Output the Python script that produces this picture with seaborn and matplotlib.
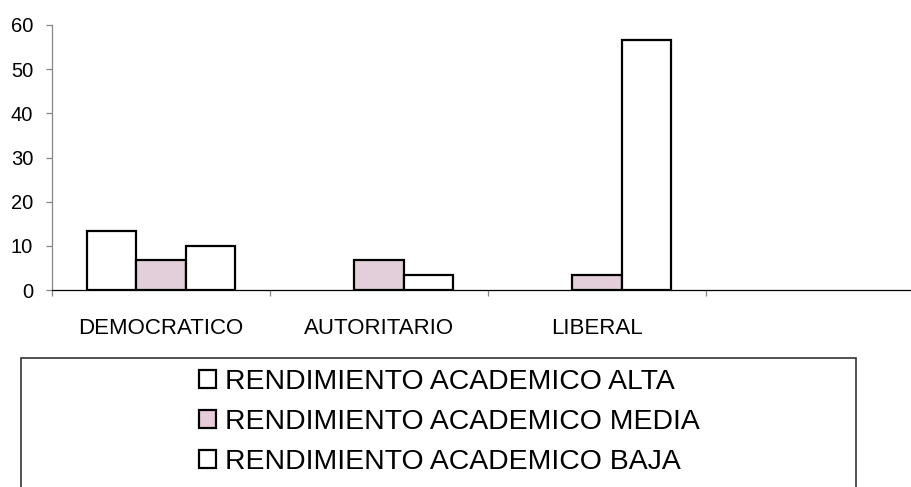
import numpy as np
import pandas as pd
import matplotlib
matplotlib.use("Agg")
import matplotlib.pyplot as plt
import matplotlib.patches as mpatches
import seaborn as sns

# datos
estilos = ["DEMOCRATICO", "AUTORITARIO", "LIBERAL"]
niveles = ["RENDIMIENTO ACADEMICO ALTA", "RENDIMIENTO ACADEMICO MEDIA", "RENDIMIENTO ACADEMICO BAJA"]
alta = [13.3, 0, 0]
media = [6.7, 6.7, 3.3]
baja = [10, 3.3, 56.7]
colores = ["#ffffff", "#e6ccd9", "#ffffff"]

df = pd.DataFrame({
    "estilo": estilos * 3,
    "nivel": [niveles[0]] * 3 + [niveles[1]] * 3 + [niveles[2]] * 3,
    "valor": alta + media + baja,
})

sns.set_theme(style="white")
plt.rcParams["font.family"] = ["Liberation Sans", "DejaVu Sans"]
plt.rcParams["text.color"] = "black"
plt.rcParams["xtick.labelcolor"] = "black"
plt.rcParams["ytick.labelcolor"] = "black"

fig = plt.figure(figsize=(9.11, 4.87), dpi=100)
ax = fig.add_axes([52 / 911, 197 / 487, 872 / 911, 265 / 487])

sns.barplot(data=df, x="estilo", y="valor", hue="nivel", order=estilos,
            hue_order=niveles, palette=colores, width=0.675,
            edgecolor="black", linewidth=1.6, legend=False, ax=ax)

# barras en cero no se ven en el original
for p in ax.patches:
    if p.get_height() == 0:
        p.set_linewidth(0)

ax.set_xlim(-0.5, 3.5)
ax.set_ylim(0, 60)
ax.set_yticks(np.arange(0, 61, 10))
ax.set_xlabel("")
ax.set_ylabel("")

for s in ["top", "right"]:
    ax.spines[s].set_visible(False)
ax.spines["left"].set_color("#868686")
ax.spines["left"].set_linewidth(0.9)
ax.spines["bottom"].set_color("black")
ax.spines["bottom"].set_linewidth(0.9)

# marcas entre categorias
ax.set_xticks([-0.5, 0.5, 1.5, 2.5], minor=True)
ax.tick_params(axis="x", which="minor", direction="out", length=4, width=0.9,
               color="#868686", bottom=True)
ax.tick_params(axis="x", which="major", length=0, pad=20, labelsize=16)
ax.tick_params(axis="y", direction="out", length=4.5, width=0.9, color="#868686",
               pad=9, labelsize=14.5, left=True)

# recuadro de la leyenda
fig.patches.append(mpatches.Rectangle((21 / 911, -0.1), 835 / 911, (487 - 358) / 487 + 0.1,
                                      transform=fig.transFigure, fill=False,
                                      edgecolor="#333333", linewidth=1.2))
handles = [mpatches.Patch(facecolor=c, edgecolor="black", linewidth=1.6) for c in colores]
fig.legend(handles, niveles, loc="upper left", bbox_to_anchor=(199 / 911, (487 - 369) / 487),
           frameon=False, fontsize=20.4, handlelength=0.6, handleheight=0.6,
           handletextpad=0.32, labelspacing=0.5, borderpad=0, borderaxespad=0)

fig.savefig("out.png", dpi=100, facecolor="white")
